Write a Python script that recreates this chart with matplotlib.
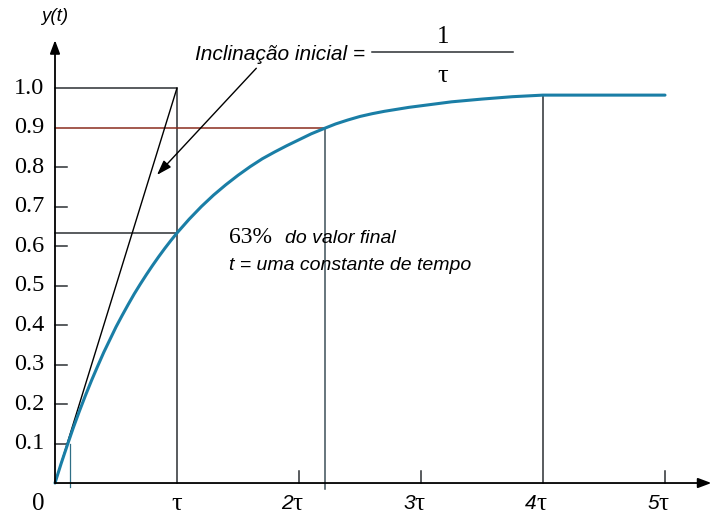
import matplotlib.pyplot as plt

# step response (t in units of tau)
t_vals = [0, 0.05, 0.1, 0.15, 0.2, 0.25, 0.3, 0.35, 0.4, 0.45, 0.5, 0.55, 0.6,
          0.65, 0.7, 0.75, 0.8, 0.85, 0.9, 0.95, 1.0, 1.1, 1.2, 1.3, 1.4, 1.5,
          1.6, 1.7, 1.8, 1.9, 2.0, 2.1, 2.21, 2.3, 2.4, 2.5, 2.6, 2.7, 2.8,
          2.9, 3.0, 3.25, 3.5, 3.75, 4.0, 4.5, 5.0]
y_vals = [0, 0.049, 0.095, 0.14, 0.182, 0.222, 0.26, 0.296, 0.331, 0.363,
          0.395, 0.424, 0.452, 0.479, 0.504, 0.528, 0.551, 0.573, 0.594, 0.614,
          0.633, 0.668, 0.7, 0.729, 0.755, 0.779, 0.801, 0.821, 0.838, 0.854,
          0.869, 0.884, 0.898, 0.909, 0.919, 0.928, 0.935, 0.941, 0.946, 0.951,
          0.955, 0.965, 0.972, 0.978, 0.982, 0.982, 0.982]

y_ticks = [0.1, 0.2, 0.3, 0.4, 0.5, 0.6, 0.7, 0.8, 0.9, 1.0]
y_tick_labels = ['0.1', '0.2', '0.3', '0.4', '0.5', '0.6', '0.7', '0.8', '0.9', '1.0']
x_ticks = [1, 2, 3, 4, 5]
x_tick_digits = ['', '2', '3', '4', '5']

t63, y63 = 1.0, 0.633
t90, y90 = 2.21, 0.9
t4, y4 = 4.0, 0.982

serif = 'Liberation Serif'
sans = 'Liberation Sans'
dark = '#2b2f33'
curve_col = '#1a7ea6'

fig = plt.figure(figsize=(7.23, 5.16), dpi=100)
ax = fig.add_axes([0, 0, 1, 1])
ax.set_xlim(-0.4508, 5.4754)
ax.set_ylim(-0.0835, 1.2228)
ax.axis('off')

# axes with arrows
ax.annotate('', xy=(5.38, 0), xytext=(0, 0),
            arrowprops=dict(arrowstyle='-|>,head_length=0.8,head_width=0.3',
                            color='black', lw=1.3, shrinkA=0, shrinkB=0))
ax.annotate('', xy=(0, 1.121), xytext=(0, 0),
            arrowprops=dict(arrowstyle='-|>,head_length=0.8,head_width=0.3',
                            color='black', lw=1.3, shrinkA=0, shrinkB=0))

# y ticks and labels
for yv, lab in zip(y_ticks, y_tick_labels):
    if yv < 0.85:
        ax.plot([0, 0.1], [yv, yv], color=dark, lw=1.1)
    ax.text(-0.09, yv, lab, family=serif, fontsize=17.5, ha='right', va='center')

# x ticks and labels
for xv, dig in zip(x_ticks, x_tick_digits):
    if xv in (2, 3, 5):
        ax.plot([xv, xv], [0, 0.03], color=dark, lw=1.1)
    if dig:
        ax.text(xv - 0.05, -0.052, dig, family=sans, style='italic',
                fontsize=15, ha='right', va='center')
        ax.text(xv - 0.05, -0.052, 'τ', family=serif, fontsize=18,
                ha='left', va='center')
    else:
        ax.text(xv, -0.052, 'τ', family=serif, fontsize=19, ha='center', va='center')
ax.text(-0.14, -0.052, '0', family=serif, fontsize=18, ha='center', va='center')
ax.text(0.0, 1.18, 'y(t)', family=sans, style='italic', fontsize=13.5,
        ha='center', va='center')

# construction lines
ax.plot([0, t63, t63], [1.0, 1.0, 0], color=dark, lw=1.1)
ax.plot([0, t63], [y63, y63], color=dark, lw=1.1)
ax.plot([0, t90], [y90, y90], color='#8a2c1e', lw=1.1)
ax.plot([t90, t90], [-0.015, y90], color='#3d5058', lw=1.1)
ax.plot([t4, t4], [0, y4], color=dark, lw=1.1)
ax.plot([0.125, 0.125], [-0.01, 0.1], color='#2f6f86', lw=0.9)
ax.plot([0, t63], [0, 1.0], color='black', lw=1.0)

# response curve
ax.plot(t_vals, y_vals, color=curve_col, lw=2.2, solid_capstyle='round',
        solid_joinstyle='round')

# annotation for the initial slope
ax.annotate('', xy=(0.836, 0.78), xytext=(1.65, 1.05),
            arrowprops=dict(arrowstyle='-|>,head_length=0.9,head_width=0.3',
                            color='black', lw=1.0, shrinkA=0, shrinkB=0))
ax.text(2.54, 1.085, 'Inclinação inicial =', family=sans, style='italic',
        fontsize=15, ha='right', va='center')
ax.plot([2.6, 3.75], [1.091, 1.091], color=dark, lw=1.1)
ax.text(3.18, 1.128, '1', family=serif, fontsize=18, ha='center', va='center')
ax.text(3.18, 1.03, 'τ', family=serif, fontsize=19, ha='center', va='center')

# 63% note
ax.text(1.43, 0.608, '63%', family=serif, fontsize=17, ha='left', va='baseline')
ax.text(1.885, 0.608, 'do valor final', family=sans, style='italic',
        fontsize=14, ha='left', va='baseline')
ax.text(1.43, 0.54, 't = uma constante de tempo', family=sans, style='italic',
        fontsize=14, ha='left', va='baseline')

fig.savefig('out.png', dpi=100)
